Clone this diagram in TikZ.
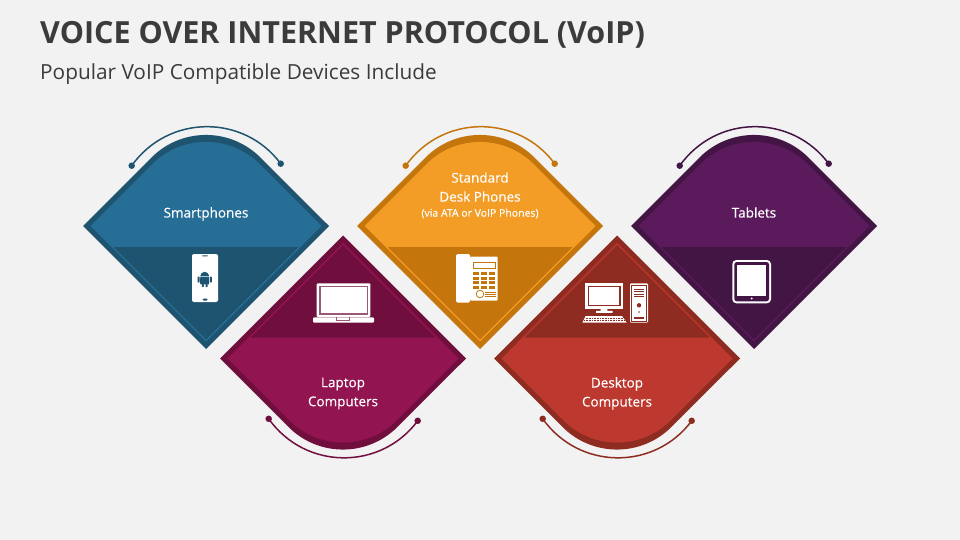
\documentclass[tikz,border=0pt]{standalone}
\usepackage{fontspec}
\setmainfont{Open Sans}
\newfontfamily\gemfont[FakeBold=0.35]{Open Sans}
\usepackage{tikz}
\usetikzlibrary{positioning}
\definecolor{pagebg}{HTML}{F2F2F2}
\definecolor{inktitle}{HTML}{3B3B3B}
\definecolor{bluelt}{HTML}{266E96}
\definecolor{bluedk}{HTML}{1E5470}
\definecolor{winelt}{HTML}{921450}
\definecolor{winedk}{HTML}{700F3E}
\definecolor{orangelt}{HTML}{F39C26}
\definecolor{orangedk}{HTML}{C4750B}
\definecolor{redlt}{HTML}{BD382E}
\definecolor{reddk}{HTML}{8E2C22}
\definecolor{plumlt}{HTML}{5B1A5C}
\definecolor{plumdk}{HTML}{421544}
\tikzset{
    gemdot/.style={circle,inner sep=0pt,minimum size=6.5pt},
    gemlabel/.style={text=white,align=center,font=\gemfont\fontsize{13.5}{19}\selectfont},
    iconw/.style={fill=white,draw=none},
    pics/gem/.style 2 args={code={
        \fill[#1] (-123,0) -- (-54.5,-68.5) arc[start angle=225,end angle=315,radius=77] -- (123,0) -- (0,123) -- cycle;
        \fill[#2] (-115.5,0) -- (-53.7,-61.8) arc[start angle=225,end angle=315,radius=76] -- (115.5,0) -- (0,115.5) -- cycle;
        \fill[#1] (-92.5,21) -- (92.5,21) -- (0,113.5) -- cycle;
        \node[gemdot,fill=#1] (-dotl) at (-74.3,-60.3) {};
        \node[gemdot,fill=#1] (-dotr) at (74.7,-62.3) {};
        \draw[#1,line width=1.5pt] (-dotl.center) .. controls (-37.5,-112) and (37.9,-112) .. (-dotr.center);
    }}
}
\begin{document}
\begin{tikzpicture}[x=1pt,y=-1pt]
    \useasboundingbox (0,0) rectangle (960,540);
    \fill[pagebg] (0,0) rectangle (960,540);
    \node[anchor=west,inner sep=0pt,text=inktitle,font=\fontsize{30.5}{36}\bfseries\selectfont] (title) at (40,35) {VOICE OVER INTERNET PROTOCOL (VoIP)};
    \node[anchor=west,inner sep=0pt,text=inktitle,font=\fontsize{20.8}{24}\selectfont] (subtitle) at (40,74) {Popular VoIP Compatible Devices Include};

    \pic (smart) at (206,226) {gem={bluedk}{bluelt}};
    \pic (desk) at (480,226) {gem={orangedk}{orangelt}};
    \pic (tablet) at (754,226) {gem={plumdk}{plumlt}};
    \pic[yscale=-1] (laptop) at (343,358.5) {gem={winedk}{winelt}};
    \pic[yscale=-1] (desktop) at (617,358.5) {gem={reddk}{redlt}};

    \node[gemlabel] (smartlabel) at (206,214) {Smartphones};
    \node[gemlabel] (desklabel) at (480,187) {Standard\\Desk Phones};
    \node[gemlabel,font=\gemfont\fontsize{10.5}{12}\selectfont] (desknote) at (480,213.5) {(via ATA or VoIP Phones)};
    \node[gemlabel] (tabletlabel) at (754,212.5) {Tablets};
    \node[gemlabel] (laptoplabel) at (343,393.5) {Laptop\\Computers};
    \node[gemlabel] (desktoplabel) at (617,393.5) {Desktop\\Computers};

    % phone
    \fill[iconw,rounded corners=2pt] (192,254) rectangle (218,302);
    \fill[bluedk,rounded corners=0.7pt] (202,255.4) rectangle (208,256.4);
    \fill[bluedk,rounded corners=1pt] (202.5,298.5) rectangle (207.5,300.5);
    \fill[bluedk] (200.2,276.3) arc[start angle=180,end angle=360,radius=4.5] -- cycle;
    \fill[bluedk,rounded corners=0.6pt] (200.2,277) rectangle (209.2,284.3);
    \fill[bluedk,rounded corners=0.6pt] (197.6,276.5) rectangle (199.5,282.5);
    \fill[bluedk,rounded corners=0.6pt] (209.9,276.5) rectangle (211.8,282.5);
    \fill[bluedk,rounded corners=0.6pt] (201.8,284) rectangle (203.8,287);
    \fill[bluedk,rounded corners=0.6pt] (205.6,284) rectangle (207.6,287);

    % laptop
    \fill[iconw,rounded corners=1pt] (316.7,283.3) rectangle (370.3,317);
    \fill[winedk!70!white] (319,285.8) rectangle (367.5,314.5);
    \fill[iconw] (320.5,286.8) rectangle (366.5,312.8);
    \fill[iconw,rounded corners=1pt] (313,317.3) rectangle (374,322.7);
    \draw[winedk!70!white,line width=0.6pt] (336.7,317.3) -- (336.7,320) -- (349.3,320) -- (349.3,317.3);

    % desk phone
    \fill[iconw,rounded corners=1.5pt] (456,254) rectangle (470,302.7);
    \fill[iconw,rounded corners=1pt] (470,256.7) rectangle (497.7,300.7);
    \draw[orangedk,line width=0.8pt] (473,262) rectangle (495.5,268.8);
    \foreach \rowy in {272,276.6,281.2,285.8} {
        \fill[orangedk] (473.4,\rowy) rectangle (479.2,\rowy+3);
        \fill[orangedk] (481.2,\rowy) rectangle (487,\rowy+3);
        \fill[orangedk] (489,\rowy) rectangle (495.2,\rowy+3);
    }
    \draw[orangedk,line width=0.8pt] (480,294) circle[radius=3.8];
    \draw[orangedk,line width=0.6pt] (485,292) -- (495.5,292) (485,294) -- (495.5,294) (485,296.2) -- (495.5,296.2);

    % desktop
    \fill[iconw] (585,283.3) rectangle (623.3,308.7);
    \fill[reddk] (587.7,286) rectangle (621,306);
    \fill[iconw] (589.3,287.3) rectangle (619.3,304.7);
    \fill[iconw] (600.7,308.7) rectangle (607.3,311) (596,310.8) rectangle (612.7,312.8);
    \fill[iconw] (582.3,322.7) -- (585.7,316) -- (622,316) -- (626.7,322.7) -- cycle;
    \draw[reddk,line width=0.5pt,dash pattern=on 0.8pt off 0.8pt] (585.5,318) -- (622.5,318) (584,320.5) -- (624.5,320.5);
    \fill[iconw,rounded corners=1pt] (630,283.3) rectangle (648,322.7);
    \draw[reddk,line width=0.6pt] (631.5,284.8) rectangle (646.5,321.2);
    \draw[reddk,line width=0.8pt] (634,289) -- (644,289) (634,291.5) -- (644,291.5) (634,294) -- (644,294) (634,296.5) -- (644,296.5);
    \fill[reddk] (639,305.3) circle[radius=2.2] (639,312) circle[radius=0.9];
    \fill[reddk] (634,317) rectangle (644,319);

    % tablet
    \fill[iconw,rounded corners=4pt] (732.3,260) rectangle (771,303.3);
    \fill[plumdk,rounded corners=2.5pt] (734.3,262) rectangle (769,301.3);
    \fill[iconw] (737.3,265) rectangle (765.7,295.7);
    \fill[iconw] (751.7,298.4) circle[radius=1.1];
\end{tikzpicture}
\end{document}
